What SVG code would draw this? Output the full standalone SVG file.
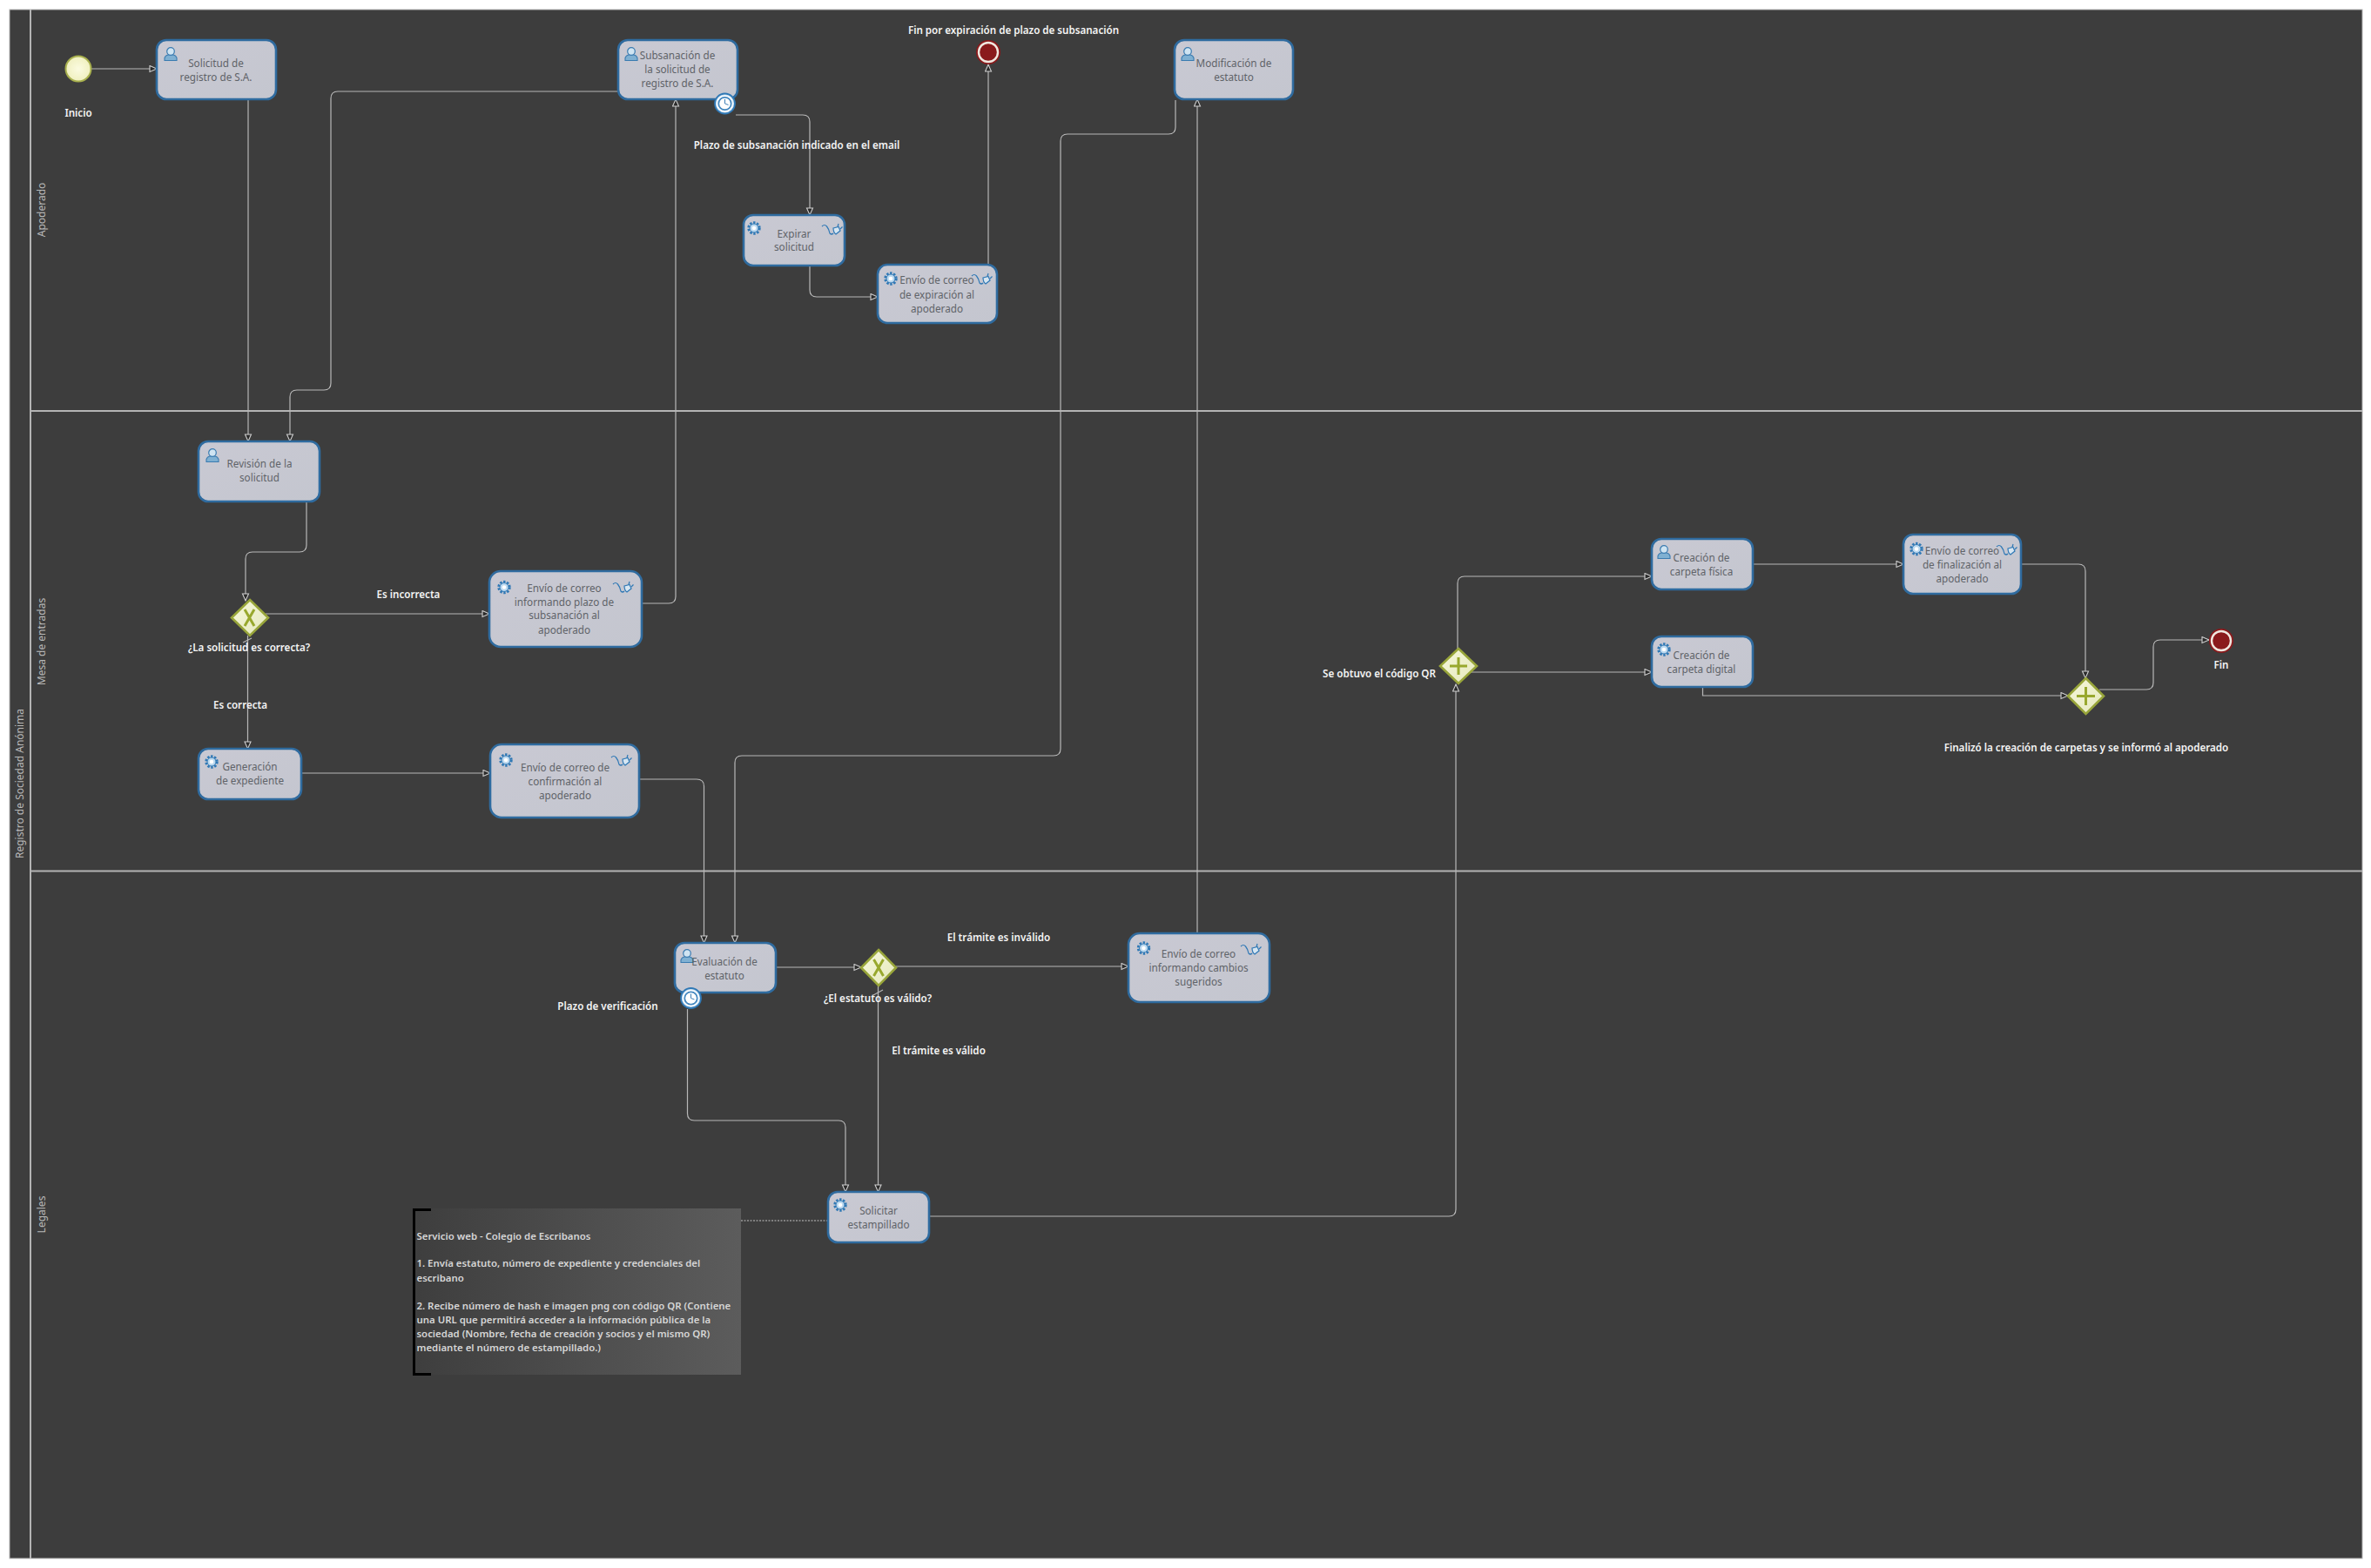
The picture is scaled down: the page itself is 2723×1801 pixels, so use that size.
<svg xmlns="http://www.w3.org/2000/svg" width="2723" height="1801" viewBox="0 0 2723 1801">
<style>
text{font-family:"Noto Sans","Open Sans","Liberation Sans",sans-serif}
.task{fill:url(#tf);stroke:#2f6b9f;stroke-width:2.6}
.t{font-size:11.7px;fill:#5f6368;text-anchor:middle}
.l{font-size:11.6px;font-weight:600;fill:#f4f4f4;text-anchor:middle}
.n{font-size:11.4px;font-weight:600;fill:#d6d6d6}
.lane{font-size:12px;fill:#b8b8b8;text-anchor:middle}
.sep{stroke:#b4b4b4;stroke-width:2;fill:none}
.c{fill:none;stroke:#b8b8b8;stroke-width:1.2;marker-end:url(#a)}
.d{fill:none;stroke:#b8b8b8;stroke-width:1.1}
.gw{fill:url(#gf);stroke:#98a53a;stroke-width:2.6}
.gi{fill:none;stroke:#98a82e;stroke-width:3}
.end{fill:#8a1a1c}
.r{fill:none;stroke:#f0e8e0;stroke-width:2.4}
</style>
<defs>
<linearGradient id="tf" x1="0" y1="0" x2="1" y2="1"><stop offset="0" stop-color="#c9c9d3"/><stop offset="1" stop-color="#c4c6cf"/></linearGradient>
<linearGradient id="gf" x1="0" y1="0" x2="1" y2="1"><stop offset="0" stop-color="#f7f8dc"/><stop offset="1" stop-color="#e4e8bc"/></linearGradient>
<radialGradient id="sf"><stop offset="0" stop-color="#fbfbe0"/><stop offset="1" stop-color="#f0f0c0"/></radialGradient>
<linearGradient id="nf"><stop offset="0" stop-color="#3e3e3e"/><stop offset="1" stop-color="#5c5c5c"/></linearGradient>
<marker id="a" markerUnits="userSpaceOnUse" markerWidth="12" markerHeight="10" refX="9" refY="4.5" orient="auto"><path d="M1 1L9 4.5L1 8Z" fill="#2b2b2b" stroke="#cfcfcf" stroke-width="1.1"/></marker>
<g id="user"><path d="M0 15.5V12.5Q1 9.5 4 9H10Q13 9.5 14 12.5V15.5Z" fill="#7fb0d2" stroke="#3a7bb0" stroke-width="1.1"/><circle cx="7" cy="5" r="4.3" fill="#cfe4f2" stroke="#3a7bb0" stroke-width="1.2"/></g>
<g id="gear"><circle r="6.3" fill="none" stroke="#2f78b5" stroke-width="2.8" stroke-dasharray="2.4 1.6"/><circle r="5" fill="#bcd9ef" stroke="#2f78b5" stroke-width="1"/><circle r="2.3" fill="#fff"/></g>
<g id="plug" fill="none" stroke="#2f78b5" stroke-width="1.2"><path d="M0 3Q3 0 5.500 3T9 11Q11 13 13 11"/><path d="M13 5L19 3.500L21 8L16 12Q13 10 13 5Z" fill="#d6e6f2"/><path d="M18 3.500L19 0M21 6L23.500 3.500"/></g>
<g id="timer"><circle r="11.500" fill="#cfe3f3" stroke="#2f78b5" stroke-width="1.800"/><circle r="8.800" fill="#3f86c0" stroke="#fff" stroke-width="1.400"/><circle r="6.800" fill="#fff" stroke="#2f78b5" stroke-width="0.800"/><path d="M0 -5V0L4 1.500" fill="none" stroke="#3f7fb5" stroke-width="1"/></g>
</defs>
<rect width="2723" height="1801" fill="#fff"/>
<g id="pool">
<rect x="11" y="11" width="2702" height="1779" fill="#3d3d3d" stroke="#b4b4b4" stroke-width="1"/>
<path class="sep" d="M35 11V1790M35 472H2713M35 1000.500H2713"/>
<text class="lane" transform="translate(27 900) rotate(-90)">Registro de Sociedad Anónima</text>
<text class="lane" transform="translate(52 241) rotate(-90)">Apoderado</text>
<text class="lane" transform="translate(52 737) rotate(-90)">Mesa de entradas</text>
<text class="lane" transform="translate(52 1395) rotate(-90)">Legales</text>
</g>
<g id="connectors">
<path class="c" d="M105 79H180"/>
<path class="c" d="M285 114V507"/>
<path class="c" d="M710 105H388Q380 105 380 113V440Q380 448 372 448H341Q333 448 333 456V507"/>
<path class="c" d="M845 132H922Q930 132 930 140V247"/>
<path class="c" d="M930 305V333Q930 341 938 341H1008"/>
<path class="c" d="M1135 304V74"/>
<path class="c" d="M1350 115V146Q1350 154 1342 154H1226Q1218 154 1218 162V860Q1218 868 1210 868H852Q844 868 844 876V1083"/>
<path class="c" d="M1375 1072V114"/>
<path class="c" d="M352 576V626Q352 634 344 634H290Q282 634 282 642V690"/>
<path class="c" d="M305 705H562"/>
<path class="c" d="M284.500 730V860"/>
<path class="d" d="M279 738L289 733"/>
<path class="c" d="M737 693H768Q776 693 776 685V114"/>
<path class="c" d="M346 888H563"/>
<path class="c" d="M734 895H800Q808.500 895 808.500 903V1083"/>
<path class="c" d="M891 1111H989"/>
<path class="c" d="M1029 1110H1296"/>
<path class="c" d="M1008.500 1132V1369"/>
<path class="d" d="M1003 1143L1014 1137"/>
<path class="c" d="M789.500 1159V1279Q789.500 1287 797.500 1287H963Q971 1287 971 1295V1369"/>
<path class="c" d="M1067 1397H1664Q1672 1397 1672 1389V786"/>
<path class="c" d="M1674 745V670Q1674 662 1682 662H1897"/>
<path class="c" d="M1687 772H1897"/>
<path class="c" d="M2013 648H2186"/>
<path class="c" d="M2321 648H2387Q2395 648 2395 656V779"/>
<path class="c" d="M1955.500 789V799H2375"/>
<path class="c" d="M2411 792H2465Q2473 792 2473 784V743Q2473 735 2481 735H2537"/>
<path d="M851 1402H951" fill="none" stroke="#c4c4c4" stroke-width="1.200" stroke-dasharray="2 1.500"/>
</g>
<g id="start"><circle cx="90" cy="79" r="14.500" fill="url(#sf)" stroke="#a8b04e" stroke-width="2"/><text class="l" x="90" y="134">Inicio</text></g>
<g id="solicitud"><rect class="task" x="180" y="46" width="137" height="68" rx="11"/><use href="#user" x="189" y="54"/><text class="t" x="248" y="77">Solicitud de</text><text class="t" x="248" y="93">registro de S.A.</text></g>
<g id="subsanacion"><rect class="task" x="710" y="46" width="137" height="68" rx="11"/><use href="#user" x="718" y="54"/><text class="t" x="778" y="68">Subsanación de</text><text class="t" x="778" y="84">la solicitud de</text><text class="t" x="778" y="100">registro de S.A.</text><use href="#timer" x="832.500" y="119"/></g>
<g id="expirar"><rect class="task" x="854" y="247" width="116" height="58" rx="11"/><use href="#gear" x="866" y="262"/><use href="#plug" x="944" y="257"/><text class="t" x="912" y="273">Expirar</text><text class="t" x="912" y="288">solicitud</text></g>
<g id="envio-expiracion"><rect class="task" x="1008" y="304" width="137" height="67" rx="11"/><use href="#gear" x="1023" y="320"/><use href="#plug" x="1116" y="314"/><text class="t" x="1076" y="326">Envío de correo</text><text class="t" x="1076" y="343">de expiración al</text><text class="t" x="1076" y="359">apoderado</text></g>
<g id="fin-expiracion"><circle class="end" cx="1135" cy="60" r="14"/><circle class="r" cx="1135" cy="60" r="11"/><text class="l" x="1164" y="39">Fin por expiración de plazo de subsanación</text></g>
<g id="label-plazo"><text class="l" x="915" y="171">Plazo de subsanación indicado en el email</text></g>
<g id="modificacion"><rect class="task" x="1349" y="46" width="136" height="68" rx="11"/><use href="#user" x="1357" y="54"/><text class="t" x="1417" y="77">Modificación de</text><text class="t" x="1417" y="93">estatuto</text></g>
<g id="revision"><rect class="task" x="228" y="507" width="139" height="69" rx="11"/><use href="#user" x="237" y="515"/><text class="t" x="298" y="537">Revisión de la</text><text class="t" x="298" y="553">solicitud</text></g>
<g id="gw-solicitud"><path class="gw" d="M287 689L308 709.500L287 730L266 709.500Z"/><path class="gi" d="M281 700L292 719M292 700L281 719"/><text class="l" x="286" y="748">¿La solicitud es correcta?</text></g>
<g id="label-incorrecta"><text class="l" x="469" y="687">Es incorrecta</text></g>
<g id="label-correcta"><text class="l" x="276" y="814">Es correcta</text></g>
<g id="envio-plazo"><rect class="task" x="562" y="656" width="175" height="87" rx="13"/><use href="#gear" x="579" y="674.500"/><use href="#plug" x="704" y="668"/><text class="t" x="648" y="680">Envío de correo</text><text class="t" x="648" y="696">informando plazo de</text><text class="t" x="648" y="711">subsanación al</text><text class="t" x="648" y="728">apoderado</text></g>
<g id="generacion"><rect class="task" x="228" y="860" width="118" height="58" rx="11"/><use href="#gear" x="243" y="875"/><text class="t" x="287" y="885">Generación</text><text class="t" x="287" y="901">de expediente</text></g>
<g id="envio-confirmacion"><rect class="task" x="563" y="855" width="171" height="84" rx="13"/><use href="#gear" x="581" y="873"/><use href="#plug" x="702" y="867"/><text class="t" x="649" y="886">Envío de correo de</text><text class="t" x="649" y="902">confirmación al</text><text class="t" x="649" y="918">apoderado</text></g>
<g id="evaluacion"><rect class="task" x="775" y="1083" width="116" height="57" rx="11"/><use href="#user" x="782" y="1090"/><text class="t" x="832" y="1109">Evaluación de</text><text class="t" x="832" y="1125">estatuto</text><use href="#timer" x="793.500" y="1146.500"/></g>
<g id="label-verificacion"><text class="l" x="698" y="1160">Plazo de verificación</text></g>
<g id="gw-estatuto"><path class="gw" d="M1009 1091L1029 1111.500L1009 1132L989 1111.500Z"/><path class="gi" d="M1003.500 1102L1014.500 1121M1014.500 1102L1003.500 1121"/><text class="l" x="1008" y="1151">¿El estatuto es válido?</text></g>
<g id="label-invalido"><text class="l" x="1147" y="1081">El trámite es inválido</text></g>
<g id="label-valido"><text class="l" x="1078" y="1211">El trámite es válido</text></g>
<g id="envio-cambios"><rect class="task" x="1296" y="1072" width="162" height="79" rx="13"/><use href="#gear" x="1313.500" y="1089"/><use href="#plug" x="1425" y="1084"/><text class="t" x="1376.500" y="1100">Envío de correo</text><text class="t" x="1376.500" y="1116">informando cambios</text><text class="t" x="1376.500" y="1132">sugeridos</text></g>
<g id="solicitar"><rect class="task" x="951" y="1369" width="116" height="58" rx="11"/><use href="#gear" x="965" y="1384"/><text class="t" x="1009" y="1395">Solicitar</text><text class="t" x="1009" y="1411">estampillado</text></g>
<g id="anotacion"><rect x="475" y="1388" width="376" height="191" fill="url(#nf)"/><path d="M495 1389.500H475.500V1578.500H495" fill="none" stroke="#000" stroke-width="3"/>
<text class="n" x="478.500" y="1424">Servicio web - Colegio de Escribanos</text>
<text class="n" x="478.500" y="1455">1. Envía estatuto, número de expediente y credenciales del</text>
<text class="n" x="478.500" y="1472">escribano</text>
<text class="n" x="478.500" y="1504">2. Recibe número de hash e imagen png con código QR (Contiene</text>
<text class="n" x="478.500" y="1520">una URL que permitirá acceder a la información pública de la</text>
<text class="n" x="478.500" y="1536">sociedad (Nombre, fecha de creación y socios y el mismo QR)</text>
<text class="n" x="478.500" y="1552">mediante el número de estampillado.)</text></g>
<g id="gw-qr"><path class="gw" d="M1675 745L1696 765L1675 785L1654 765Z"/><path class="gi" d="M1665 765H1685M1675 755V775"/><text class="l" x="1584" y="778">Se obtuvo el código QR</text></g>
<g id="carpeta-fisica"><rect class="task" x="1897" y="619" width="116" height="58" rx="11"/><use href="#user" x="1904" y="626"/><text class="t" x="1954" y="645">Creación de</text><text class="t" x="1954" y="661">carpeta física</text></g>
<g id="carpeta-digital"><rect class="task" x="1897" y="731" width="116" height="58" rx="11"/><use href="#gear" x="1911" y="746"/><text class="t" x="1954" y="757">Creación de</text><text class="t" x="1954" y="773">carpeta digital</text></g>
<g id="envio-finalizacion"><rect class="task" x="2186" y="614" width="135" height="68" rx="11"/><use href="#gear" x="2201" y="630.500"/><use href="#plug" x="2293" y="625"/><text class="t" x="2253.500" y="637">Envío de correo</text><text class="t" x="2253.500" y="653">de finalización al</text><text class="t" x="2253.500" y="669">apoderado</text></g>
<g id="gw-fin"><path class="gw" d="M2395.500 779L2416 799.500L2395.500 820L2375 799.500Z"/><path class="gi" d="M2385 799.500H2406M2395.500 789V810"/><text class="l" x="2396" y="863">Finalizó la creación de carpetas y se informó al apoderado</text></g>
<g id="fin"><circle class="end" cx="2551" cy="736" r="14"/><circle class="r" cx="2551" cy="736" r="11"/><text class="l" x="2551" y="768">Fin</text></g>
</svg>
